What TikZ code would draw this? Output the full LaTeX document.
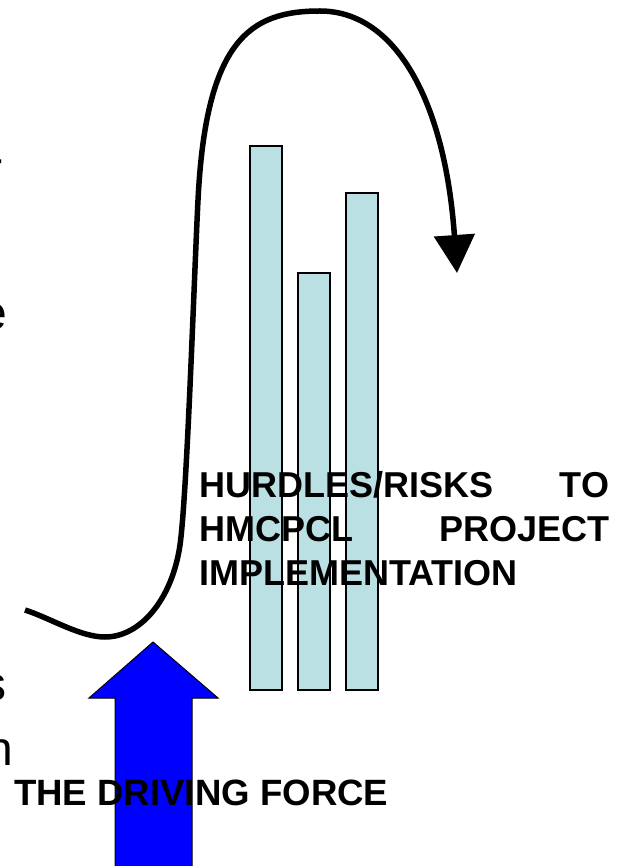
\documentclass[tikz,border=0pt]{standalone}
\usepackage{fontspec}
\setmainfont{Liberation Sans}
\usetikzlibrary{arrows.meta}
\definecolor{barfill}{RGB}{187,224,227}
\begin{document}
\begin{tikzpicture}[x=1pt,y=-1pt,
  bar/.style={draw=black,line width=2pt,fill=barfill},
  flow/.style={line width=5.5pt,-{Triangle[width=40pt,length=38pt]}},
  bigarrow/.style={fill=blue,draw=black,line width=1pt},
  lbl/.style={font=\bfseries\fontsize{36}{44}\selectfont,inner sep=0pt,anchor=base west},
  frag/.style={font=\fontsize{48}{56}\selectfont,inner sep=0pt,anchor=base east}]
\useasboundingbox (0,0) rectangle (619,866);
\clip (0,0) rectangle (619,866);
% bars
\draw[bar] (249.5,146) rectangle (282,690);
\draw[bar] (297.5,273.5) rectangle (329.5,690);
\draw[bar] (345.5,193.5) rectangle (378,690);
% curved arrow
\coordinate (cstart) at (25,610);
\coordinate (cend) at (457,273);
\draw[flow] (cstart) .. controls (50,618) and (80,637) .. (105,637)
  .. controls (140,637) and (172,600) .. (180,545)
  .. controls (187,495) and (194,280) .. (198,200)
  .. controls (206,40) and (250,11) .. (320,11)
  .. controls (395,11) and (445,100) .. (cend);
% blue block arrow
\draw[bigarrow] (115,875) -- (115,698) -- (89,698) -- (153,642) -- (218,698) -- (192,698) -- (192,875) -- cycle;
% left fragments (cut off at the left edge)
\node[frag] (fragr) at (3,186) {r};
\node[frag] (frage) at (7,329) {e};
\node[frag] (frags) at (7,700) {s};
\node[frag] (fragn) at (13,765) {n};
% labels
\node[lbl] (h1) at (199,497) {\makebox[410pt][s]{HURDLES/RISKS\hfill TO}};
\node[lbl] (h2) at (199,541) {\makebox[410pt][s]{HMCPCL\hfill PROJECT}};
\node[lbl] (h3) at (199,585) {IMPLEMENTATION};
\node[lbl,font=\bfseries\fontsize{36.6}{44}\selectfont] (drive) at (14,805) {THE DRIVING FORCE};
\end{tikzpicture}
\end{document}
